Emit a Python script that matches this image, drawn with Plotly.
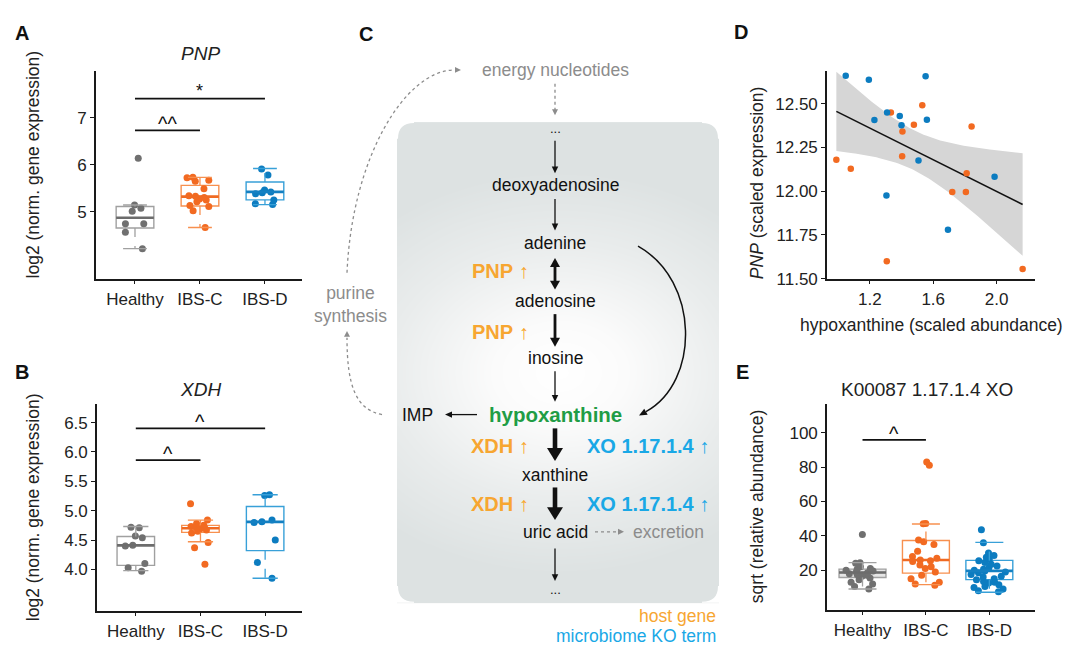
import numpy as np
import plotly.graph_objects as go

W, H = 1080, 657
FONT = "Liberation Sans, Arial, Helvetica, sans-serif"

# ---------------- data ----------------
groups = ["Healthy", "IBS-C", "IBS-D"]

# Panel A: PNP log2 expression
pnp_healthy = [6.14, 5.14, 5.07, 5.01, 4.74, 4.74, 4.56, 4.21]
pnp_ibsc = [5.73, 5.72, 5.67, 5.65, 5.49, 5.34, 5.33, 5.30, 5.27, 5.25, 5.21, 5.13, 5.11, 5.02, 4.66]
pnp_ibsd = [5.91, 5.78, 5.46, 5.42, 5.40, 5.38, 5.25, 5.17, 5.15]
pnp_q1 = [4.65, 5.12, 5.25]
pnp_median = [4.87, 5.32, 5.42]
pnp_q3 = [5.11, 5.56, 5.63]
pnp_lower = [4.21, 4.66, 5.15]
pnp_upper = [5.14, 5.73, 5.92]

# Panel B: XDH log2 expression
xdh_healthy = [4.72, 4.71, 4.57, 4.54, 4.41, 4.40, 4.10, 4.03, 3.97]
xdh_ibsc = [5.12, 4.84, 4.78, 4.75, 4.73, 4.71, 4.70, 4.69, 4.67, 4.65, 4.62, 4.46, 4.37, 4.09]
xdh_ibsd = [5.27, 5.26, 4.84, 4.81, 4.80, 4.50, 4.12, 3.85]
xdh_q1 = [4.07, 4.63, 4.32]
xdh_median = [4.41, 4.70, 4.81]
xdh_q3 = [4.56, 4.75, 5.07]
xdh_lower = [3.98, 4.47, 3.85]
xdh_upper = [4.73, 4.84, 5.27]

# Panel D: hypoxanthine vs PNP
d_blue_x = [1.048, 1.194, 1.552, 1.309, 1.229, 1.389, 1.400, 1.560, 1.507, 1.305, 1.987, 1.693]
d_blue_y = [12.659, 12.636, 12.657, 12.450, 12.407, 12.429, 12.377, 12.408, 12.175, 11.975, 12.083, 11.779]
d_orange_x = [1.333, 1.531, 1.478, 1.406, 1.842, 1.404, 0.989, 1.080, 1.811, 1.720, 1.806, 1.307, 2.164]
d_orange_y = [12.450, 12.491, 12.379, 12.341, 12.369, 12.199, 12.179, 12.128, 12.102, 11.995, 11.995, 11.599, 11.556]

# Panel E: K00087 sqrt relative abundance
xo_healthy = [40.8, 24.3, 24.0, 22.0, 21.0, 20.5, 20.0, 19.5, 19.0, 18.5, 18.0, 17.5, 17.0, 16.5, 15.5, 14.5, 13.0, 12.0, 10.5, 9.0]
xo_ibsc = [83.0, 81.0, 47.2, 47.0, 37.5, 36.5, 35.0, 31.0, 28.0, 27.0, 26.0, 25.5, 25.0, 23.0, 22.0, 21.0, 19.0, 17.0, 15.0, 13.0, 12.0, 11.2]
xo_ibsd = [43.5, 36.0, 30.0, 28.5, 27.5, 26.5, 25.5, 24.5, 23.5, 22.5, 21.5, 20.5, 20.0, 19.5, 19.0, 18.5, 17.5,
           16.5, 16.0, 15.0, 14.5, 13.5, 13.0, 12.5, 11.5, 10.5, 10.0, 9.0, 8.0, 7.5]
xo_q1 = [15.8, 18.3, 14.5]
xo_median = [18.7, 25.9, 19.6]
xo_q3 = [20.6, 37.3, 25.7]
xo_lower = [9.1, 11.6, 7.2]
xo_upper = [24.4, 46.9, 36.2]

# significance annotations
pnp_sig = [("Healthy", "IBS-D", 7.41, "*"), ("Healthy", "IBS-C", 6.73, "^^")]
xdh_sig = [("Healthy", "IBS-D", 6.40, "^"), ("Healthy", "IBS-C", 5.86, "^")]
xo_sig = [("Healthy", "IBS-C", 95.8, "^")]

pathway_nodes = ["deoxyadenosine", "adenine", "adenosine", "inosine", "hypoxanthine", "xanthine", "uric acid"]

# ---------------- styles ----------------
pt_colors = {"Healthy": "#707070", "IBS-C": "#f26a21", "IBS-D": "#0c7cc0"}
box_colors = {"Healthy": "#a0a0a0", "IBS-C": "#f7904f", "IBS-D": "#38a0d8"}
med_colors = {"Healthy": "#6c6c6c", "IBS-C": "#f06a22", "IBS-D": "#1480c2"}
ORANGE_T = "#f7a631"
BLUE_T = "#19a8e6"
GREEN_T = "#1f9d45"
GRAY_T = "#8c8c8c"

fig = go.Figure()
shapes = []
annots = []


def dx(a, b):
    return [a / W, b / W]


def dy(top, bottom):
    return [1 - bottom / H, 1 - top / H]


axis_common = dict(showline=True, linecolor="#1a1a1a", linewidth=1.6, ticks="outside", ticklen=4,
                   tickwidth=1.2, tickcolor="#1a1a1a", showgrid=False, zeroline=False, mirror=False,
                   tickfont=dict(family=FONT, size=17, color="#222"), fixedrange=True)


def box_panel(xa, ya, series, q1, med, q3, lo, hi, bw, cap_px, healthy_fill=None):
    for i, g in enumerate(groups):
        fill = healthy_fill if (healthy_fill and g == "Healthy") else "rgba(255,255,255,0)"
        fig.add_trace(go.Box(x=[g], q1=[q1[i]], median=[med[i]], q3=[q3[i]], lowerfence=[q1[i]],
                             upperfence=[q3[i]], width=bw, whiskerwidth=0,
                             line=dict(color=box_colors[g], width=1.4), fillcolor=fill,
                             xaxis=xa, yaxis=ya, showlegend=False, hoverinfo="skip", boxpoints=False))
        fig.add_trace(go.Scatter(x=[g, g, None, g, g], y=[q3[i], hi[i], None, q1[i], lo[i]], mode="lines",
                                 line=dict(color=box_colors[g], width=1.3, dash="dash"),
                                 xaxis=xa, yaxis=ya, showlegend=False, hoverinfo="skip"))
        fig.add_trace(go.Scatter(x=[g, g], y=[hi[i], lo[i]], mode="markers",
                                 marker=dict(symbol="line-ew", size=cap_px, color=box_colors[g],
                                             line=dict(color=box_colors[g], width=1.4)),
                                 xaxis=xa, yaxis=ya, showlegend=False, hoverinfo="skip"))
        vals = series[i]
        fig.add_trace(go.Box(x=[g] * len(vals), y=vals, boxpoints="all", jitter=0.8, pointpos=0, width=bw,
                             marker=dict(color=pt_colors[g], size=7, line=dict(width=0)),
                             line=dict(width=0, color="rgba(0,0,0,0)"), fillcolor="rgba(0,0,0,0)",
                             whiskerwidth=0, xaxis=xa, yaxis=ya, showlegend=False, hoverinfo="y"))
        fig.add_trace(go.Box(x=[g], q1=[med[i]], median=[med[i]], q3=[med[i]], lowerfence=[med[i]],
                             upperfence=[med[i]], width=bw, whiskerwidth=0,
                             line=dict(color=med_colors[g], width=2.6), fillcolor="rgba(0,0,0,0)",
                             xaxis=xa, yaxis=ya, showlegend=False, hoverinfo="skip", boxpoints=False))


def sig_bars(xa, ya, sigs, text_shift):
    for g0, g1, yv, txt in sigs:
        fig.add_trace(go.Scatter(x=[g0, g1], y=[yv, yv], mode="lines", line=dict(color="#111", width=1.8),
                                 xaxis=xa, yaxis=ya, showlegend=False, hoverinfo="skip"))
        xm = (groups.index(g0) + groups.index(g1)) / 2
        size = 18 if txt == "*" else 20
        annots.append(dict(x=xm, y=yv, xref=xa, yref=ya, text=txt, showarrow=False, yanchor="bottom",
                           yshift=text_shift if txt == "*" else text_shift - 3,
                           font=dict(family=FONT, size=size, color="#111")))


# ---------------- Panel A ----------------
box_panel("x", "y", [pnp_healthy, pnp_ibsc, pnp_ibsd], pnp_q1, pnp_median, pnp_q3, pnp_lower, pnp_upper, 0.58, 17)
sig_bars("x", "y", pnp_sig, -4)
# ---------------- Panel B ----------------
box_panel("x2", "y2", [xdh_healthy, xdh_ibsc, xdh_ibsd], xdh_q1, xdh_median, xdh_q3, xdh_lower, xdh_upper, 0.58, 18)
sig_bars("x2", "y2", xdh_sig, -4)
# ---------------- Panel E ----------------
box_panel("x4", "y4", [xo_healthy, xo_ibsc, xo_ibsd], xo_q1, xo_median, xo_q3, xo_lower, xo_upper, 0.74, 20,
          healthy_fill="rgba(180,180,180,0.35)")
sig_bars("x4", "y4", xo_sig, -4)

# ---------------- Panel D ----------------
allx = np.array(d_blue_x + d_orange_x)
ally = np.array(d_blue_y + d_orange_y)
n = len(allx)
slope, intercept = np.polyfit(allx, ally, 1)
xs = np.linspace(allx.min(), allx.max(), 80)
fit = intercept + slope * xs
resid = ally - (intercept + slope * allx)
s = np.sqrt(np.sum(resid ** 2) / (n - 2))
sxx = np.sum((allx - allx.mean()) ** 2)
t_crit = 2.069  # t(0.975, df=23)
se = s * np.sqrt(1 / n + (xs - allx.mean()) ** 2 / sxx)
upper = fit + t_crit * se
lower = fit - t_crit * se
fig.add_trace(go.Scatter(x=np.concatenate([xs, xs[::-1]]), y=np.concatenate([upper, lower[::-1]]),
                         fill="toself", fillcolor="#d6d6d6", line=dict(width=0), mode="lines",
                         xaxis="x3", yaxis="y3", showlegend=False, hoverinfo="skip"))
fig.add_trace(go.Scatter(x=xs, y=fit, mode="lines", line=dict(color="#111", width=1.6),
                         xaxis="x3", yaxis="y3", showlegend=False, hoverinfo="skip"))
fig.add_trace(go.Scatter(x=d_orange_x, y=d_orange_y, mode="markers", marker=dict(color=pt_colors["IBS-C"], size=6.5),
                         xaxis="x3", yaxis="y3", showlegend=False))
fig.add_trace(go.Scatter(x=d_blue_x, y=d_blue_y, mode="markers", marker=dict(color=pt_colors["IBS-D"], size=6.5),
                         xaxis="x3", yaxis="y3", showlegend=False))

# ---------------- Panel C (diagram) ----------------
RX0, RX1, RY0, RY1 = 398, 718, 125, 611
gx = np.linspace(RX0, RX1, 161)
gy = np.linspace(RY0, RY1, 244)
GX, GY = np.meshgrid(gx, gy)
zz = np.clip(np.sqrt(((GX - 560) / 265) ** 2 + ((GY - 378) / 205) ** 2), 0, 1)
fig.add_trace(go.Heatmap(x=gx, y=gy, z=zz, zmin=0, zmax=1, zsmooth="best", showscale=False, hoverinfo="skip",
                         colorscale=[[0, "#ffffff"], [0.25, "#fbfbfb"], [0.65, "#e9ecec"], [1, "#dde2e2"]],
                         xaxis="x5", yaxis="y5"))
r = 16
for (cx, cy, sx, sy) in [(RX0, RY0, 1, 1), (RX1, RY0, -1, 1), (RX0, RY1, 1, -1), (RX1, RY1, -1, -1)]:
    p = f"M {cx - sx},{cy - sy} L {cx + sx * r},{cy - sy} L {cx + sx * r},{cy} Q {cx},{cy} {cx},{cy + sy * r} L {cx - sx},{cy + sy * r} Z"
    shapes.append(dict(type="path", path=p, xref="x5", yref="y5", fillcolor="white", line=dict(width=0),
                       layer="above"))


def head(tx, ty, ux, uy, hl, hw, color):
    bx, by = tx - ux * hl, ty - uy * hl
    px, py = -uy, ux
    p = (f"M {tx:.2f},{ty:.2f} L {bx + px * hw / 2:.2f},{by + py * hw / 2:.2f} "
         f"L {bx - px * hw / 2:.2f},{by - py * hw / 2:.2f} Z")
    shapes.append(dict(type="path", path=p, xref="x5", yref="y5", fillcolor=color, line=dict(width=0),
                       layer="above"))


def arrow(x0, y0, x1, y1, w=1.3, hl=7, hw=6.5, color="#111", dash=None, both=False):
    L = np.hypot(x1 - x0, y1 - y0)
    ux, uy = (x1 - x0) / L, (y1 - y0) / L
    sx, sy = (x0 + ux * (hl - 1), y0 + uy * (hl - 1)) if both else (x0, y0)
    ex, ey = x1 - ux * (hl - 1), y1 - uy * (hl - 1)
    ln = dict(color=color, width=w)
    if dash:
        ln["dash"] = dash
    shapes.append(dict(type="line", xref="x5", yref="y5", x0=sx, y0=sy, x1=ex, y1=ey, line=ln, layer="above"))
    head(x1, y1, ux, uy, hl, hw, color)
    if both:
        head(x0, y0, -ux, -uy, hl, hw, color)


def curve(p0, p1, p2, p3, w, color, dash=None):
    ln = dict(color=color, width=w)
    if dash:
        ln["dash"] = dash
    path = f"M {p0[0]},{p0[1]} C {p1[0]},{p1[1]} {p2[0]},{p2[1]} {p3[0]},{p3[1]}"
    shapes.append(dict(type="path", path=path, xref="x5", yref="y5", line=ln, layer="above"))


CXm = 555
# solid arrows along the pathway
arrow(CXm, 143, CXm, 176)
arrow(CXm, 202, CXm, 234)
arrow(CXm, 262, CXm, 294, w=2.8, hl=9, hw=10, both=True)
arrow(CXm, 319, CXm, 352, w=2.8, hl=9, hw=10)
arrow(CXm, 377, CXm, 408)
arrow(477, 421, 445, 421)
arrow(CXm, 435, CXm, 468, w=4.6, hl=13, hw=16)
arrow(CXm, 495, CXm, 528, w=4.6, hl=13, hw=16)
arrow(CXm, 557, CXm, 590)
# curved adenine -> hypoxanthine
curve((638, 250), (700, 285), (700, 388), (646, 418), 1.5, "#111")
v = np.array([640 - 700, 422 - 388.0])
v = v / np.linalg.norm(v)
head(639, 422, v[0], v[1], 8, 7, "#111")
# dotted arrows
arrow(CXm, 85, CXm, 117, w=1.3, hl=6, hw=6, color=GRAY_T, dash="dot")
arrow(595, 540, 624, 540, w=1.3, hl=6, hw=6, color=GRAY_T, dash="dot")
curve((382, 421), (356, 416), (347, 392), (347, 343), 1.3, GRAY_T, dash="dot")
head(347, 336, 0, -1, 6, 6, GRAY_T)
curve((347, 277), (352, 160), (405, 72), (454, 71), 1.3, GRAY_T, dash="dot")
head(461, 71, 1, 0, 6, 6, GRAY_T)


def ctext(x, y, text, color="#111", size=17.5, xanchor="center"):
    annots.append(dict(x=x, y=y, xref="x5", yref="y5", text=text, showarrow=False, xanchor=xanchor,
                       yanchor="middle", font=dict(family=FONT, size=size, color=color)))


node_y = [188, 247, 306, 364, 421, 482, 540]
for name, yy in zip(pathway_nodes, node_y):
    if name == "hypoxanthine":
        ctext(CXm, yy, f"<b>{name}</b>", GREEN_T, 20.5)
    else:
        ctext(CXm, yy, name)
ctext(CXm, 71, "energy nucleotides", GRAY_T)
ctext(CXm, 130, "...", "#111", 13)
ctext(CXm, 599, "...", "#111", 13)
ctext(417, 421, "IMP")
ctext(668, 540, "excretion", GRAY_T)
ctext(350, 309, "purine<br>synthesis", GRAY_T)
for yy in [275, 337]:
    ctext(500, yy, "<b>PNP</b> ↑", ORANGE_T, 20)
for yy in [453, 512]:
    ctext(500, yy, "<b>XDH</b> ↑", ORANGE_T, 20)
    ctext(648, yy, "<b>XO 1.17.1.4</b> ↑", BLUE_T, 20)
ctext(718, 626, "host gene", ORANGE_T, 17.5, "right")
ctext(718, 646, "microbiome KO term", BLUE_T, 17.5, "right")


# ---------------- titles / labels ----------------
def ptext(x, y, text, size=17.5, angle=0, color="#222", xanchor="center"):
    annots.append(dict(x=x / W, y=1 - y / H, xref="paper", yref="paper", text=text, showarrow=False,
                       textangle=angle, xanchor=xanchor, yanchor="middle",
                       font=dict(family=FONT, size=size, color=color)))


for lbl, x, y in [("A", 22, 34), ("B", 22, 378), ("C", 366, 35), ("D", 741, 33), ("E", 742, 378)]:
    ptext(x, y, f"<b>{lbl}</b>", 20, color="#111")
ptext(200, 54, "<i>PNP</i>", 19)
ptext(200, 396, "<i>XDH</i>", 19)
ptext(927, 396, "K00087 1.17.1.4 XO", 19)
ptext(33, 167, "log2 (norm. gene expression)", 17.5, -90)
ptext(33, 515, "log2 (norm. gene expression)", 17.5, -90)
ptext(757, 186, "<i>PNP</i> (scaled expression)", 17.5, -90)
ptext(757, 514, "sqrt (relative abundance)", 17.5, -90)
ptext(931, 330, "hypoxanthine (scaled abundance)", 17.5)

# ---------------- layout ----------------
cat_x = dict(axis_common, type="category", categoryorder="array", categoryarray=groups)
fig.update_layout(
    width=W, height=H, autosize=False,
    margin=dict(l=0, r=0, t=0, b=0, pad=0),
    paper_bgcolor="white", plot_bgcolor="rgba(0,0,0,0)",
    font=dict(family=FONT, size=17, color="#222"),
    showlegend=False, boxmode="overlay",
    xaxis=dict(cat_x, domain=dx(96, 302), range=[-0.6, 2.57], anchor="y"),
    yaxis=dict(axis_common, domain=dy(72, 283), range=[3.57, 8.0], tickvals=[5, 6, 7], anchor="x"),
    xaxis2=dict(cat_x, domain=dx(97, 302), range=[-0.6, 2.57], anchor="y2"),
    yaxis2=dict(axis_common, domain=dy(410, 620), range=[3.30, 6.82], tickvals=[4.0, 4.5, 5.0, 5.5, 6.0, 6.5],
                tickformat=".1f", anchor="x2"),
    xaxis3=dict(axis_common, domain=dx(827, 1035), range=[0.93, 2.242], tickvals=[1.2, 1.6, 2.0],
                tickformat=".1f", anchor="y3"),
    yaxis3=dict(axis_common, domain=dy(72, 283), range=[11.5, 12.687],
                tickvals=[11.5, 11.75, 12.0, 12.25, 12.5], tickformat=".2f", anchor="x3"),
    xaxis4=dict(cat_x, domain=dx(827, 1035), range=[-0.56, 2.72], anchor="y4"),
    yaxis4=dict(axis_common, domain=dy(410, 619), range=[-2.9, 116.8], tickvals=[20, 40, 60, 80, 100],
                anchor="x4"),
    xaxis5=dict(domain=[0, 1], range=[0, W], visible=False, fixedrange=True, anchor="y5"),
    yaxis5=dict(domain=[0, 1], range=[H, 0], visible=False, fixedrange=True, anchor="x5"),
    shapes=shapes, annotations=annots,
)

post = ("document.documentElement.style.margin='0';document.body.style.margin='0';"
        "document.documentElement.style.overflow='hidden';document.body.style.overflow='hidden';"
        "var gd=document.getElementById('{plot_id}');"
        "gd.style.position='fixed';gd.style.top='0px';gd.style.left='0px';")
fig.write_html("out.html", config={"displayModeBar": False}, post_script=post)
